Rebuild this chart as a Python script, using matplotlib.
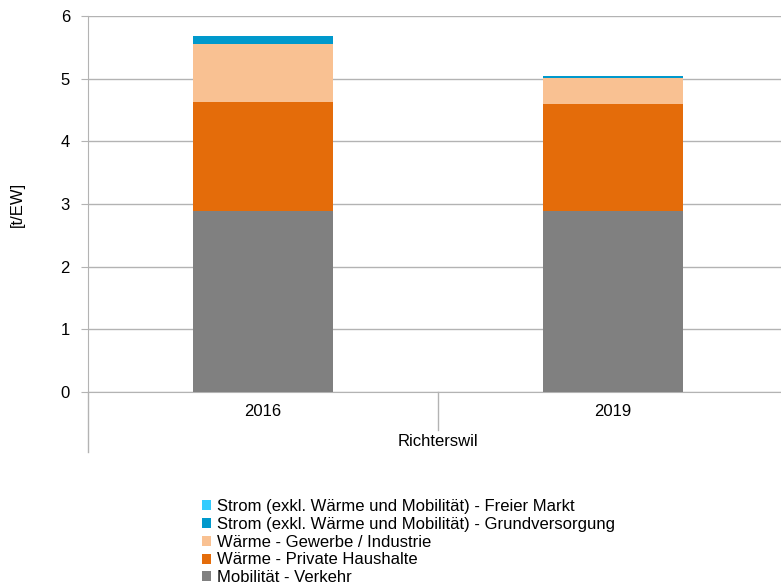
import matplotlib.pyplot as plt
from matplotlib.patches import Patch
import numpy as np

plt.rcParams['font.family'] = ['Liberation Sans', 'DejaVu Sans']

years = ["2016", "2019"]
region = "Richterswil"

# stacked from bottom to top
series = [
    "Mobilität - Verkehr",
    "Wärme - Private Haushalte",
    "Wärme - Gewerbe / Industrie",
    "Strom (exkl. Wärme und Mobilität) - Grundversorgung",
    "Strom (exkl. Wärme und Mobilität) - Freier Markt",
]
mobilitaet = [2.89, 2.89]
waerme_haushalte = [1.74, 1.71]
waerme_gewerbe = [0.92, 0.41]
strom_grund = [0.13, 0.04]
strom_frei = [0.0, 0.0]
colors = ["#808080", "#E46C0A", "#F9C192", "#0099CC", "#33CCFF"]

values = [mobilitaet, waerme_haushalte, waerme_gewerbe, strom_grund, strom_frei]

W, H = 781, 585
fig = plt.figure(figsize=(W / 100, H / 100), dpi=100)
ax = fig.add_axes([88 / W, (H - 392) / H, (788 - 88) / W, (392 - 16) / H])

x = np.arange(len(years))
bottom = np.zeros(len(years))
for vals, col in zip(values, colors):
    ax.bar(x, vals, width=0.4, bottom=bottom, color=col, zorder=3)
    bottom += np.array(vals)

ax.set_xlim(-0.5, 1.5)
ax.set_ylim(0, 6)
ax.set_yticks(range(7))
ax.yaxis.grid(True, color="#B3B3B3", linewidth=1, zorder=0)
ax.tick_params(axis="y", length=5, color="#B3B3B3", labelsize=12, pad=8)
ax.set_xticks([])
for s in ["top", "right"]:
    ax.spines[s].set_visible(False)
ax.spines["left"].set_color("#B3B3B3")
ax.spines["bottom"].set_color("#B3B3B3")
ax.set_ylabel("[t/EW]", fontsize=12, labelpad=26)

# axis extension below zero and group separator
span = 392 - 16
ax.plot([0, 0], [0, -(452 - 392) / span], transform=ax.transAxes,
        color="#B3B3B3", lw=1, clip_on=False)
sep = (438 - 88) / (788 - 88)
ax.plot([sep, sep], [0, -(430 - 392) / span], transform=ax.transAxes,
        color="#B3B3B3", lw=1, clip_on=False)

for xi, lab in zip(x, years):
    ax.text(xi, -(411 - 392) / span, lab, transform=ax.get_xaxis_transform(),
            ha="center", va="center", fontsize=12)
ax.text(0.5, -(441 - 392) / span, region, transform=ax.get_xaxis_transform(),
        ha="center", va="center", fontsize=12)

handles = [Patch(facecolor=c, edgecolor="none") for c in colors][::-1]
fig.legend(handles, series[::-1], loc="upper left",
           bbox_to_anchor=(202 / W, 1 - 499 / H), frameon=False,
           fontsize=12, handlelength=0.55, handleheight=0.55, handletextpad=0.35,
           labelspacing=0.17, borderpad=0, borderaxespad=0)

fig.savefig("out.png", dpi=100)
